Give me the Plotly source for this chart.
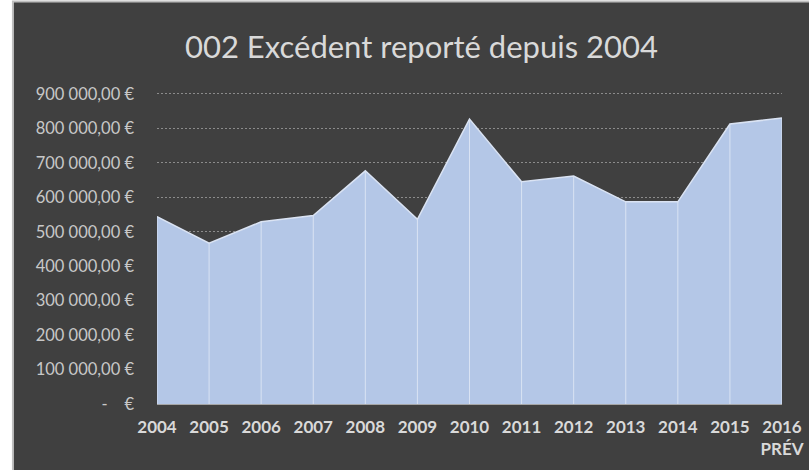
import plotly.graph_objects as go

years = ["2004", "2005", "2006", "2007", "2008", "2009", "2010", "2011", "2012", "2013", "2014", "2015", "2016"]
year_labels = ["2004", "2005", "2006", "2007", "2008", "2009", "2010", "2011", "2012", "2013", "2014", "2015", "2016<br>PRÉV"]
excedent = [544000, 467000, 529000, 547000, 677000, 536000, 827000, 645000, 662000, 587000, 587000, 813000, 830000]
y_ticks = [0, 100000, 200000, 300000, 400000, 500000, 600000, 700000, 800000, 900000]


def fmt(v):
    if v == 0:
        return "-\u00a0\u00a0\u00a0\u00a0€"
    s = f"{v:,.2f}".replace(",", " ").replace(".", ",")
    return s + " €"


y_ticktext = [fmt(v) for v in y_ticks]

x_idx = list(range(len(years)))

fig = go.Figure()
fig.add_trace(go.Scatter(
    x=x_idx, y=excedent, mode="lines", fill="tozeroy",
    fillcolor="#b4c7e7", line=dict(color="#dae3f3", width=1.5),
    hoverinfo="skip", showlegend=False,
))
# drop lines
dx, dy = [], []
for i, v in zip(x_idx, excedent):
    dx += [i, i, None]
    dy += [0, v, None]
fig.add_trace(go.Scatter(
    x=dx, y=dy, mode="lines", line=dict(color="#dae3f3", width=1),
    hoverinfo="skip", showlegend=False,
))

fig.update_layout(
    width=809, height=470,
    margin=dict(l=157, r=27, t=87, b=66),
    paper_bgcolor="white",
    plot_bgcolor="rgba(0,0,0,0)",
    font=dict(family="Lato, 'Open Sans', sans-serif", color="#d0d0d0"),
    title=dict(
        text="002 Excédent reporté depuis 2004",
        x=0.521, xref="container", xanchor="center",
        y=0.9, yref="container", yanchor="middle",
        font=dict(size=31, color="#d9d9d9", family="Lato, sans-serif"),
    ),
    shapes=[dict(
        type="rect", xref="paper", yref="paper", layer="below",
        x0=-0.2305, x1=1.1, y0=-0.3, y1=1.27,
        fillcolor="#404040", line=dict(color="#bfbfbf", width=2),
    )],
    xaxis=dict(
        tickmode="array", tickvals=x_idx, ticktext=year_labels,
        range=[0, len(years) - 1], showgrid=False, zeroline=False,
        showline=False, ticks="", automargin=False,
        tickfont=dict(size=17, color="#d9d9d9", family="Lato, sans-serif", weight="bold"),
        ticklabelstandoff=11,
    ),
    yaxis=dict(
        tickmode="array", tickvals=y_ticks, ticktext=y_ticktext,
        range=[0, 920300], showgrid=True, gridcolor="#8c8c8c",
        griddash="2px,2px", gridwidth=1, zeroline=True, zerolinecolor="#a6a6a6",
        zerolinewidth=1.5, showline=False, ticks="", automargin=False,
        tickfont=dict(size=16.5, color="#c8c8c8", family="Lato, sans-serif"),
        ticklabelstandoff=22,
    ),
)

fig.write_html("out.html", config={"displayModeBar": False},
               post_script="document.body.style.margin='0';")
